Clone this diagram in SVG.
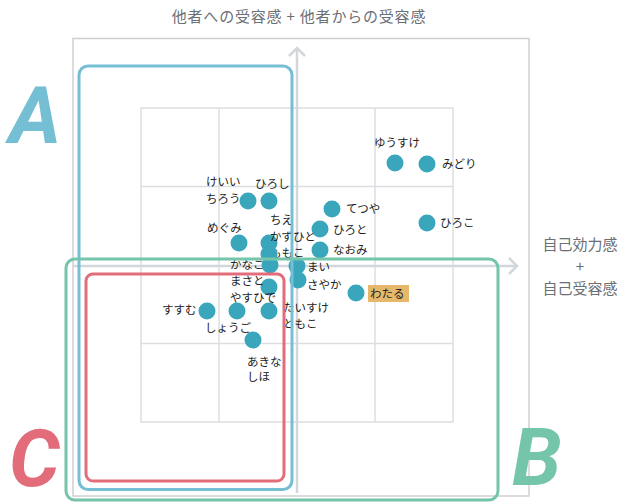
<svg xmlns="http://www.w3.org/2000/svg" width="620" height="502" viewBox="0 0 620 502">
<defs>
<style>
.grid{fill:none;stroke:#dcdee1;stroke-width:1.5}
.frame{fill:none;stroke:#d0d0d0;stroke-width:1.5}
.axis{fill:none;stroke:#d3d6da;stroke-width:2.5}
.dot{fill:#3aa6bc}
.lbl{font-family:"Noto Sans CJK JP","Noto Sans",sans-serif;font-size:11.5px;fill:#222}
.ttl{font-family:"Noto Sans CJK JP","Noto Sans",sans-serif;font-size:15px;fill:#6b6f76}
.big{font-family:Roboto,"Liberation Sans",sans-serif;font-weight:bold;font-style:italic;font-size:80px}
</style>
</defs>
<rect width="620" height="502" fill="#fff"/>
<g id="frame">
<rect class="frame" x="73" y="38.5" width="456" height="457.5"/>
<rect class="grid" x="141" y="108" width="312" height="314"/>
<line class="grid" x1="219" y1="108" x2="219" y2="422"/>
<line class="grid" x1="375" y1="108" x2="375" y2="422"/>
<line class="grid" x1="141" y1="186.5" x2="453" y2="186.5"/>
<line class="grid" x1="141" y1="343.5" x2="453" y2="343.5"/>
</g>
<g id="axes">
<line class="axis" x1="297" y1="493" x2="297" y2="48"/>
<polyline class="axis" points="289,56 297,48 305,56"/>
<line class="axis" x1="74" y1="266" x2="517" y2="266"/>
<polyline class="axis" points="509,258 517,266 509,274"/>
</g>
<text class="ttl" x="299" y="22" text-anchor="middle" letter-spacing="0.8">他者への受容感 + 他者からの受容感</text>
<g id="ylabel" class="ttl" text-anchor="middle">
<text x="580" y="250">自己効力感</text>
<text x="580" y="272">+</text>
<text x="580" y="294">自己受容感</text>
</g>
<g id="n-yusuke"><circle class="dot" cx="395" cy="163" r="8.5"/><text class="lbl" x="374" y="147">ゆうすけ</text></g>
<g id="n-midori"><circle class="dot" cx="427" cy="164" r="8.5"/><text class="lbl" x="442" y="168">みどり</text></g>
<g id="n-tetsuya"><circle class="dot" cx="332" cy="209" r="8.5"/><text class="lbl" x="346" y="213">てつや</text></g>
<g id="n-hiroto"><circle class="dot" cx="320" cy="229" r="8.5"/><text class="lbl" x="333" y="234">ひろと</text></g>
<g id="n-hiroko"><circle class="dot" cx="427" cy="223" r="8.5"/><text class="lbl" x="440" y="227">ひろこ</text></g>
<g id="n-naomi"><circle class="dot" cx="320" cy="250" r="8.5"/><text class="lbl" x="333" y="254">なおみ</text></g>
<g id="n-keiichiro"><circle class="dot" cx="248" cy="201" r="8.5"/><text class="lbl" x="206" y="186">けいい</text><text class="lbl" x="206" y="203">ちろう</text></g>
<g id="n-hiroshi"><circle class="dot" cx="269" cy="201" r="8.5"/><text class="lbl" x="255" y="188">ひろし</text></g>
<g id="n-megumi"><circle class="dot" cx="239" cy="243" r="8.5"/><text class="lbl" x="207" y="232">めぐみ</text></g>
<g id="n-momoko"><text class="lbl" x="270" y="257">ももこ</text><circle class="dot" cx="269" cy="254" r="8.5"/></g>
<g id="n-chie"><circle class="dot" cx="269" cy="243" r="8.5"/><text class="lbl" x="270" y="224">ちえ</text></g>
<g id="n-kazuhito"><text class="lbl" x="270" y="241">かずひと</text></g>
<g id="n-kanako"><circle class="dot" cx="270" cy="265" r="8.5"/><text class="lbl" x="230" y="269">かなこ</text></g>
<g id="n-masato"><circle class="dot" cx="269" cy="287" r="8.5"/><text class="lbl" x="230" y="285">まさと</text></g>
<g id="n-mai"><circle class="dot" cx="297" cy="266" r="8.5"/><text class="lbl" x="307" y="271">まい</text></g>
<g id="n-sayaka"><circle class="dot" cx="298" cy="280" r="8.5"/><text class="lbl" x="307" y="289">さやか</text></g>
<g id="n-wataru"><circle class="dot" cx="356" cy="293" r="8.5"/><rect x="368" y="285" width="41" height="17" fill="#e6b86c"/><text class="lbl" x="370" y="298">わたる</text></g>
<g id="n-susumu"><circle class="dot" cx="207" cy="311" r="8.5"/><text class="lbl" x="162" y="314">すすむ</text></g>
<g id="n-shogo"><circle class="dot" cx="237" cy="311" r="8.5"/><text class="lbl" x="205" y="332">しょうご</text></g>
<g id="n-yasuhide"><circle class="dot" cx="269" cy="311" r="8.5"/><text class="lbl" x="230" y="302">やすひで</text></g>
<g id="n-taisuke"><text class="lbl" x="283" y="312">たいすけ</text></g>
<g id="n-tomoko"><text class="lbl" x="283" y="328">ともこ</text></g>
<g id="n-akina"><circle class="dot" cx="253" cy="340" r="8.5"/><text class="lbl" x="247" y="366">あきな</text></g>
<g id="n-shiho"><text class="lbl" x="247" y="381">しほ</text></g>
<g id="groups" fill="none" stroke-width="3">
<rect id="grpA" x="79" y="66" width="213" height="423.5" rx="9" stroke="#75bfd5"/>
<rect id="grpB" x="66" y="259" width="432" height="241" rx="9" stroke="#74c5a9"/>
<rect id="grpC" x="86" y="274" width="198" height="207" rx="7" stroke="#e36c7a"/>
</g>
<text class="big" x="9" y="143" fill="#75bfd5">A</text>
<text class="big" x="512" y="485" fill="#74c5a9">B</text>
<text class="big" x="9" y="486" fill="#e36c7a">C</text>
</svg>
